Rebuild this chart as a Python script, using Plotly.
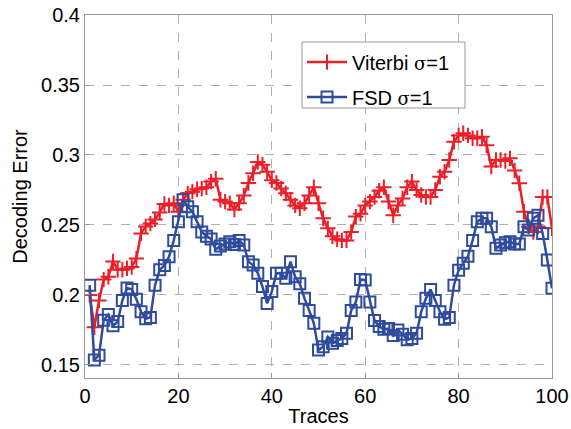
import plotly.graph_objects as go

traces = list(range(1, 101))

viterbi = [
    0.200, 0.177, 0.196, 0.211, 0.213, 0.224, 0.218, 0.218, 0.219, 0.220,
    0.226, 0.244, 0.249, 0.251, 0.254, 0.259, 0.265, 0.264, 0.2655, 0.2595,
    0.268, 0.2726, 0.2738, 0.2755, 0.276, 0.277, 0.281, 0.283, 0.268, 0.2667,
    0.2655, 0.261, 0.2655, 0.271, 0.280, 0.287, 0.295, 0.293, 0.288, 0.282,
    0.280, 0.276, 0.2726, 0.268, 0.264, 0.262, 0.2655, 0.271, 0.277, 0.2655,
    0.2548, 0.2476, 0.242, 0.2398, 0.239, 0.239, 0.245, 0.256, 0.258, 0.264,
    0.2667, 0.270, 0.2745, 0.277, 0.2667, 0.257, 0.264, 0.269, 0.277, 0.281,
    0.275, 0.2714, 0.270, 0.270, 0.275, 0.2845, 0.288, 0.2964, 0.3095, 0.314,
    0.3155, 0.314, 0.312, 0.312, 0.313, 0.307, 0.2917, 0.2964, 0.2964, 0.2957,
    0.2976, 0.289, 0.2798, 0.2595, 0.2488, 0.245, 0.249, 0.270, 0.270, 0.2476,
]

fsd = [
    0.207, 0.1536, 0.157, 0.182, 0.186, 0.178, 0.181, 0.196, 0.205, 0.204,
    0.197, 0.188, 0.183, 0.184, 0.207, 0.218, 0.221, 0.2274, 0.239, 0.2524,
    0.268, 0.263, 0.2595, 0.2524, 0.245, 0.242, 0.240, 0.2326, 0.235, 0.2365,
    0.238, 0.236, 0.239, 0.2357, 0.2238, 0.2214, 0.2155, 0.206, 0.194, 0.2024,
    0.2155, 0.2155, 0.212, 0.2238, 0.213, 0.208, 0.1976, 0.189, 0.1798, 0.1607,
    0.163, 0.170, 0.1655, 0.1674, 0.169, 0.1726, 0.189, 0.195, 0.211, 0.2107,
    0.195, 0.1817, 0.1774, 0.1755, 0.176, 0.171, 0.175, 0.172, 0.168, 0.169,
    0.1726, 0.188, 0.1976, 0.204, 0.196, 0.188, 0.1826, 0.184, 0.207, 0.2177,
    0.2226, 0.2276, 0.239, 0.2524, 0.2548, 0.2548, 0.2488, 0.2333, 0.2357, 0.2374,
    0.238, 0.2364, 0.2364, 0.2488, 0.2464, 0.2548, 0.257, 0.244, 0.225, 0.2048,
]

x_ticks = [0, 20, 40, 60, 80, 100]
y_ticks = [0.15, 0.2, 0.25, 0.3, 0.35, 0.4]
y_labels = ['0.15', '0.2', '0.25', '0.3', '0.35', '0.4']

sigma = "<span style='font-family:DejaVu Serif;font-size:18px'>σ</span>"

fig = go.Figure()
fig.add_trace(go.Scatter(
    x=traces, y=viterbi, mode='lines+markers',
    name='Viterbi ' + sigma + '=1', legendgroup='a',
    line=dict(color='#ec1f28', width=2.5),
    marker=dict(symbol='cross-thin', size=11, line=dict(color='#ec1f28', width=2)),
))
fig.add_trace(go.Scatter(
    x=traces, y=fsd, mode='lines+markers',
    name='FSD ' + sigma + '=1', legendgroup='b',
    line=dict(color='#2e4b9d', width=2.5),
    marker=dict(symbol='square-open', size=11, color='#2e4b9d', line=dict(width=2)),
))

axis_common = dict(
    showgrid=True, gridcolor='#b0b0b0', griddash='dash', gridwidth=1,
    showline=True, linecolor='#999999', linewidth=1, mirror=True,
    ticks='inside', ticklen=5, tickcolor='#999999',
    zeroline=False, automargin=False, ticklabeloverflow='allow',
    tickfont=dict(family='Liberation Sans', size=20, color='black'),
    title_font=dict(family='Liberation Sans', size=20, color='black'),
)

fig.update_xaxes(range=[0, 100], tickvals=x_ticks, title_text='Traces',
                 title_standoff=2, **axis_common)
fig.update_yaxes(range=[0.1407, 0.4], tickvals=y_ticks, ticktext=y_labels,
                 title_text='Decoding Error', title_standoff=8, **axis_common)

# legend frame drawn by hand, plotly's own box came out too narrow
fig.add_shape(type='rect', xref='paper', yref='paper',
              x0=0.4647, x1=0.8137, y0=0.7438, y1=0.9256,
              fillcolor='white', line=dict(color='#999999', width=1), layer='above')

fig.update_layout(
    width=571, height=429,
    margin=dict(l=85, r=19, t=15, b=51),
    plot_bgcolor='white', paper_bgcolor='white',
    font=dict(family='Liberation Sans', size=20, color='black'),
    legend=dict(
        x=0.4647, y=0.924, xanchor='left', yanchor='top',
        bgcolor='rgba(0,0,0,0)', borderwidth=0,
        font=dict(size=20), itemwidth=40, tracegroupgap=6,
    ),
)

fig.write_html("out.html", config={'displayModeBar': False},
               post_script="document.body.style.margin='0';document.body.style.overflow='hidden';")
